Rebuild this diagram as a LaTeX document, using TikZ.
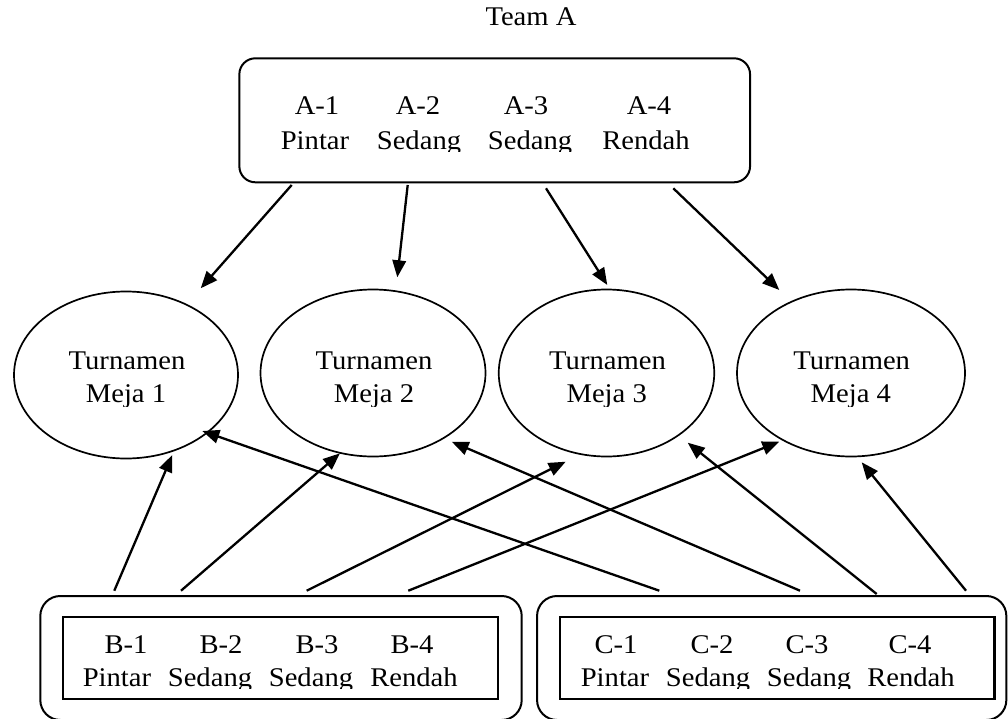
\documentclass[tikz,border=0pt]{standalone}
\usepackage{fontspec}
\setmainfont{Liberation Serif}[FakeStretch=1.06]
\usetikzlibrary{arrows.meta,shapes.geometric}
\begin{document}
\begin{tikzpicture}[x=1pt,y=-1pt,
  txt/.style={anchor=base,inner sep=0pt,font=\fontsize{27}{34}\selectfont},
  ell/.style={draw,ellipse,line width=1.7pt,minimum width=224pt,minimum height=167pt,inner sep=0pt},
  arr/.style={line width=2.3pt,-{Triangle[length=17pt,width=13.5pt]}},
  outerbox/.style={draw,line width=2pt,rounded corners=20pt,inner sep=0pt},
  innerbox/.style={draw,line width=2.3pt,inner sep=0pt}]
\useasboundingbox (0,0) rectangle (1008,719);

% Team A
\node[txt] (team) at (531,26) {Team A};

% top box
\node[draw,line width=2pt,rounded corners=16pt,inner sep=0pt,minimum width=510.7pt,minimum height=124pt] (top) at (494.7,120.3) {};
\begin{scope}
\clip (0,40) rectangle (1008,151.5);
\node[txt] (ta1) at (317,115) {A-1};
\node[txt] (ta2) at (418,115) {A-2};
\node[txt] (ta3) at (526,115) {A-3};
\node[txt] (ta4) at (649,115) {A-4};
\node[txt] (tp1) at (315,149.3) {Pintar};
\node[txt] (tp2) at (419,149.3) {Sedang};
\node[txt] (tp3) at (530,149.3) {Sedang};
\node[txt] (tp4) at (646,149.3) {Rendah};
\end{scope}

% ellipses
\node[ell] (e1) at (126,375) {};
\node[ell,minimum width=225pt] (e2) at (373,373) {};
\node[ell,minimum width=215.5pt] (e3) at (606.5,373) {};
\node[ell,minimum width=228pt] (e4) at (851,373) {};
\begin{scope}
\clip (0,300) rectangle (1008,406);
\node[txt] (e1a) at (127,369.3) {Turnamen};
\node[txt] (e1b) at (126,402.7) {Meja 1};
\node[txt] (e2a) at (374,369.3) {Turnamen};
\node[txt] (e2b) at (374,402.7) {Meja 2};
\node[txt] (e3a) at (607.5,369.3) {Turnamen};
\node[txt] (e3b) at (606.7,402.7) {Meja 3};
\node[txt] (e4a) at (851.7,369.3) {Turnamen};
\node[txt] (e4b) at (850.8,402.7) {Meja 4};
\end{scope}

% bottom boxes
\node[outerbox,minimum width=481.4pt,minimum height=124pt] (bout) at (281,658) {};
\node[outerbox,minimum width=469.3pt,minimum height=124pt] (cout) at (771.7,658) {};
\node[innerbox,minimum width=435pt,minimum height=82pt] (bin) at (280.35,657.85) {};
\node[innerbox,minimum width=434.4pt,minimum height=82pt] (cin) at (777.35,657.85) {};
\begin{scope}
\clip (0,600) rectangle (1008,688);
\node[txt] (b1) at (126,653.3) {B-1};
\node[txt] (b2) at (221,653.3) {B-2};
\node[txt] (b3) at (317,653.3) {B-3};
\node[txt] (b4) at (412,653.3) {B-4};
\node[txt] (bp1) at (117,686.7) {Pintar};
\node[txt] (bp2) at (210,686.7) {Sedang};
\node[txt] (bp3) at (311,686.7) {Sedang};
\node[txt] (bp4) at (414,686.7) {Rendah};
\node[txt] (c1) at (616,653.3) {C-1};
\node[txt] (c2) at (712,653.3) {C-2};
\node[txt] (c3) at (807,653.3) {C-3};
\node[txt] (c4) at (910,653.3) {C-4};
\node[txt] (cp1) at (615,686.7) {Pintar};
\node[txt] (cp2) at (708,686.7) {Sedang};
\node[txt] (cp3) at (809,686.7) {Sedang};
\node[txt] (cp4) at (911,686.7) {Rendah};
\end{scope}

% arrow end points
\coordinate (a1s) at (291.7,185);   \coordinate (a1t) at (200.7,288.3);
\coordinate (a2s) at (407.7,185);   \coordinate (a2t) at (397.3,277.3);
\coordinate (a3s) at (546,188.3);   \coordinate (a3t) at (607.3,285);
\coordinate (a4s) at (673.3,188.3); \coordinate (a4t) at (779.3,290);
\coordinate (b1s) at (114.3,590.7); \coordinate (b1t) at (172.3,455);
\coordinate (b2s) at (181,590.7);   \coordinate (b2t) at (340,453.3);
\coordinate (b3s) at (306.7,590.7); \coordinate (b3t) at (565.7,461.7);
\coordinate (b4s) at (408.3,590.7); \coordinate (b4t) at (779.3,441.7);
\coordinate (c1s) at (659.3,590.7); \coordinate (c1t) at (202.3,431);
\coordinate (c2s) at (800,590.7);   \coordinate (c2t) at (451.7,441.7);
\coordinate (c3s) at (876.7,594);   \coordinate (c3t) at (687.7,442.7);
\coordinate (c4s) at (966,590.7);   \coordinate (c4t) at (861.7,462.3);

\draw[arr] (a1s) -- (a1t);
\draw[arr] (a2s) -- (a2t);
\draw[arr] (a3s) -- (a3t);
\draw[arr] (a4s) -- (a4t);
\draw[arr] (b1s) -- (b1t);
\draw[arr] (b2s) -- (b2t);
\draw[arr] (b3s) -- (b3t);
\draw[arr] (b4s) -- (b4t);
\draw[arr] (c1s) -- (c1t);
\draw[arr] (c2s) -- (c2t);
\draw[arr] (c3s) -- (c3t);
\draw[arr] (c4s) -- (c4t);
\end{tikzpicture}
\end{document}
